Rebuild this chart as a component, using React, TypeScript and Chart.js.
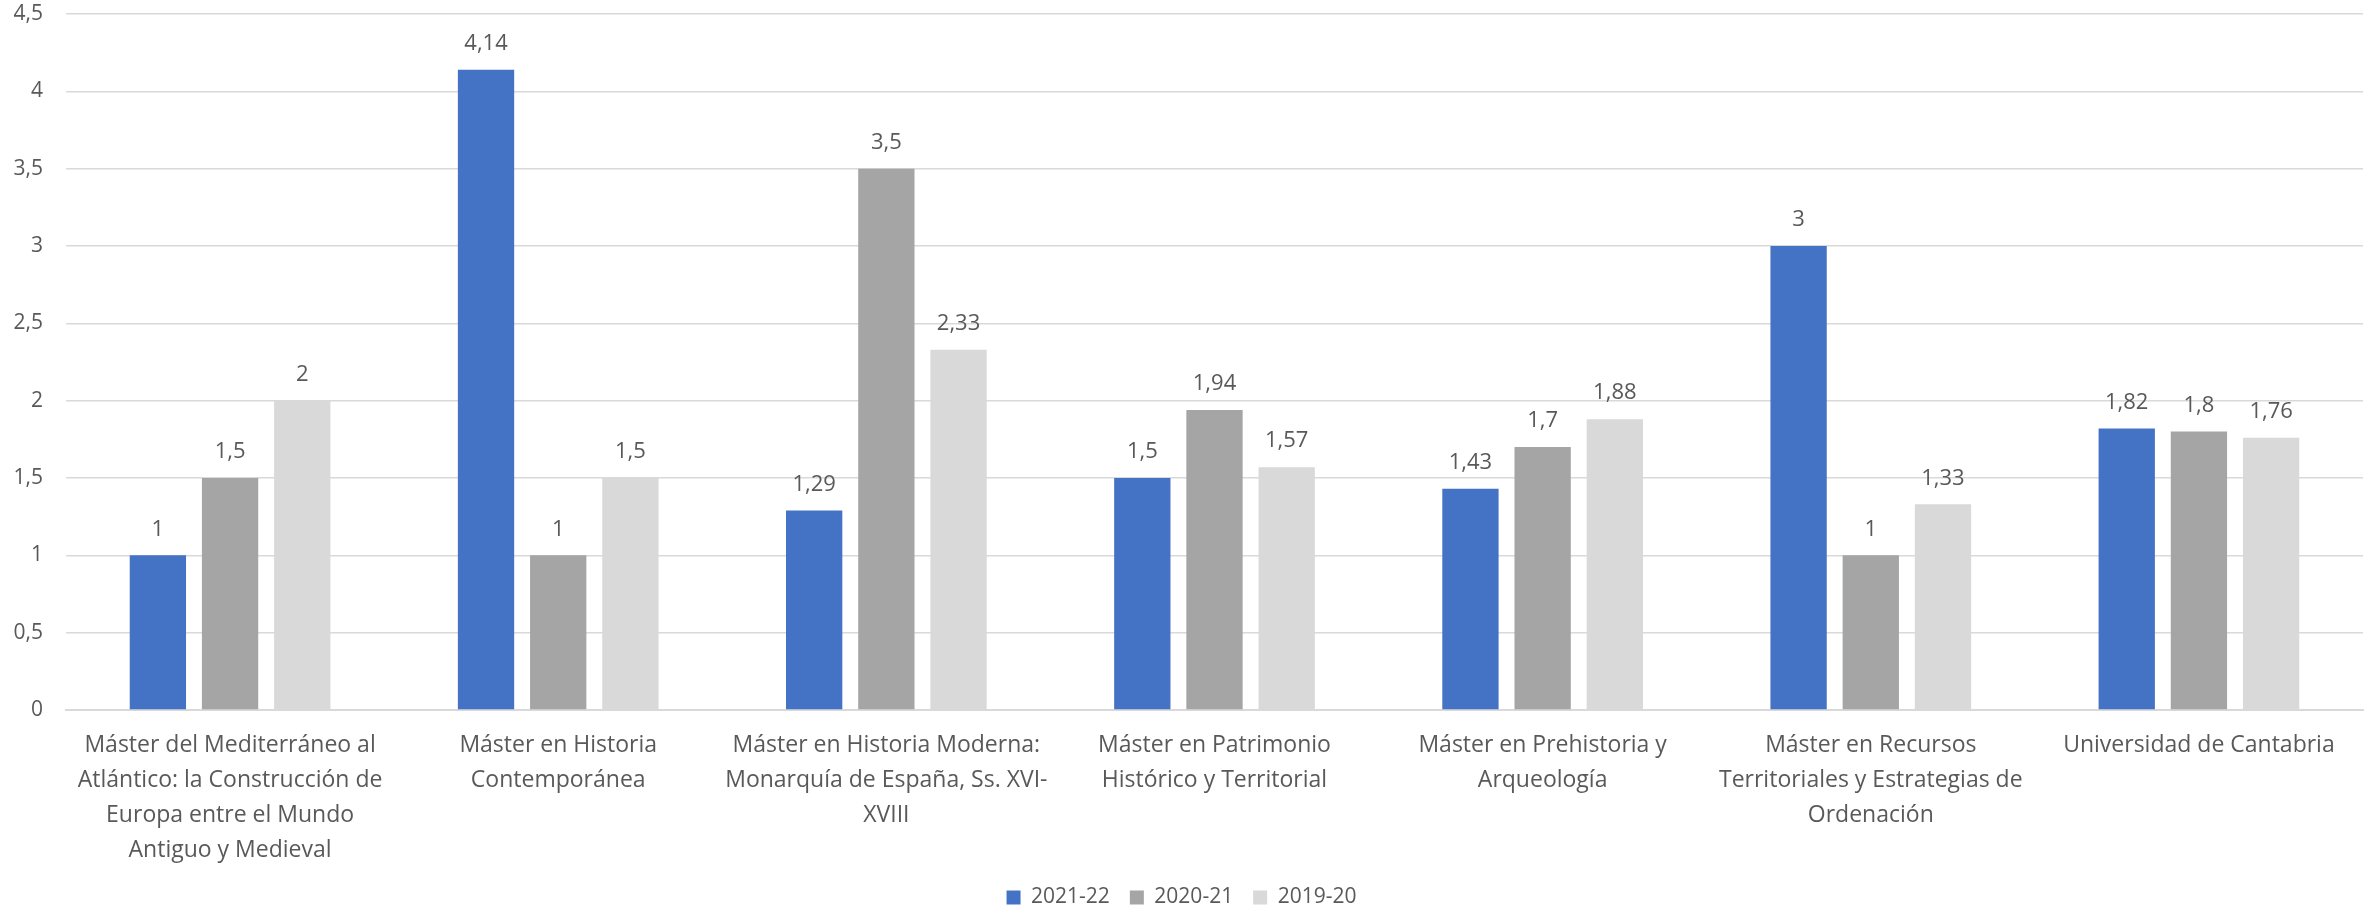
import React, { useEffect, useRef } from 'react';
import { Chart, registerables } from 'chart.js';

Chart.register(...registerables);

const categories: (string | string[])[] = [
  ['Máster del Mediterráneo al', 'Atlántico: la Construcción de', 'Europa entre el Mundo', 'Antiguo y Medieval'],
  ['Máster en Historia', 'Contemporánea'],
  ['Máster en Historia Moderna:', 'Monarquía de España, Ss. XVI-', 'XVIII'],
  ['Máster en Patrimonio', 'Histórico y Territorial'],
  ['Máster en Prehistoria y', 'Arqueología'],
  ['Máster en Recursos', 'Territoriales y Estrategias de', 'Ordenación'],
  'Universidad de Cantabria',
];

const seriesNames = ['2021-22', '2020-21', '2019-20'];
const values2122 = [1, 4.14, 1.29, 1.5, 1.43, 3, 1.82];
const values2021 = [1.5, 1, 3.5, 1.94, 1.7, 1, 1.8];
const values1920 = [2, 1.5, 2.33, 1.57, 1.88, 1.33, 1.76];
const seriesColors = ['#4472C4', '#A5A5A5', '#D9D9D9'];

const yMin = 0;
const yMax = 4.5;
const yStep = 0.5;

const FONT = '"Open Sans", sans-serif';
const TEXT = '#595959';

const fmt = (v: number) => String(v).replace('.', ',');

const dataLabelPlugin = {
  id: 'dataLabels',
  afterDatasetsDraw(chart: any) {
    const ctx = chart.ctx;
    ctx.save();
    ctx.font = `22px ${FONT}`;
    ctx.fillStyle = TEXT;
    ctx.textAlign = 'center';
    ctx.textBaseline = 'middle';
    chart.data.datasets.forEach((ds: any, i: number) => {
      const meta = chart.getDatasetMeta(i);
      meta.data.forEach((el: any, j: number) => {
        ctx.fillText(fmt(ds.data[j]), el.x, el.y - 26);
      });
    });
    ctx.restore();
  },
};

export default function App() {
  const ref = useRef<HTMLCanvasElement>(null);
  useEffect(() => {
    document.body.style.margin = '0';
    const allValues = [values2122, values2021, values1920];
    const chart = new Chart(ref.current!, {
      type: 'bar',
      data: {
        labels: categories,
        datasets: seriesNames.map((name, i) => ({
          label: name,
          data: allValues[i],
          backgroundColor: seriesColors[i],
          borderWidth: 0,
          categoryPercentage: 0.66,
          barPercentage: 0.78,
        })),
      },
      options: {
        animation: false,
        responsive: true,
        maintainAspectRatio: false,
        layout: { padding: { top: 14, right: 11, left: 0, bottom: -9 } },
        plugins: {
          legend: {
            position: 'bottom',
            labels: {
              boxWidth: 14,
              boxHeight: 14,
              color: TEXT,
              font: { family: FONT, size: 21 },
              padding: 20,
            },
          },
          tooltip: { enabled: false },
        },
        scales: {
          x: {
            grid: { display: false, drawTicks: false },
            border: { color: '#D9D9D9', width: 2 },
            ticks: {
              color: TEXT,
              font: { family: FONT, size: 23, lineHeight: 1.52 },
              padding: 18,
              maxRotation: 0,
              autoSkip: false,
            },
            afterFit: (s: any) => {
              s.height = 157;
            },
          },
          y: {
            min: yMin,
            max: yMax,
            grid: { color: '#D9D9D9', lineWidth: 1.5, drawTicks: false },
            border: { display: false },
            ticks: {
              stepSize: yStep,
              color: TEXT,
              font: { family: FONT, size: 21 },
              padding: 23,
              callback: (v: any) => fmt(Number(v)),
            },
            afterFit: (s: any) => {
              s.width = 66;
              s.paddingTop = 0;
              s.paddingBottom = 0;
            },
          },
        },
      },
      plugins: [dataLabelPlugin],
    });
    return () => chart.destroy();
  }, []);
  return (
    <div style={{ position: 'absolute', left: 0, top: 0, width: 2374, height: 909, background: '#fff' }}>
      <canvas ref={ref} />
    </div>
  );
}
